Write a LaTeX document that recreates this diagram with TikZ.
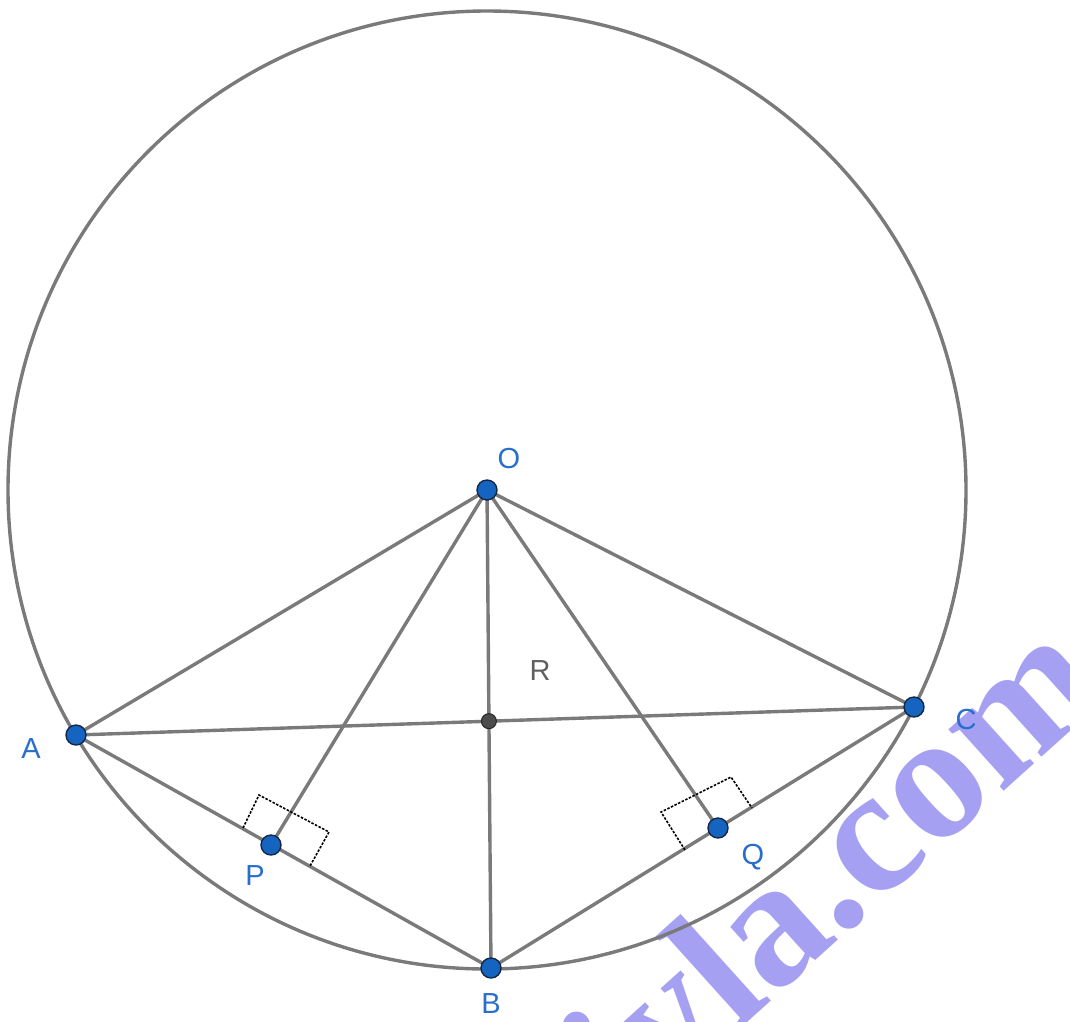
\documentclass[tikz,border=0pt]{standalone}
\usepackage{fontspec}
\setmainfont{Liberation Sans}
\newfontfamily\wmfont{Liberation Serif}
\usetikzlibrary{calc}
\definecolor{segcol}{RGB}{122,122,122}
\definecolor{ptblue}{RGB}{21,101,192}
\definecolor{ptedge}{RGB}{20,40,70}
\definecolor{lblblue}{RGB}{40,110,205}
\definecolor{lblgray}{RGB}{96,96,96}
\definecolor{wmcol}{RGB}{166,160,242}
\tikzset{
  seg/.style={draw=segcol, line width=3.4pt},
  ptdot/.style={circle, fill=ptblue, draw=ptedge, line width=1.4pt, minimum size=20pt, inner sep=0pt},
  rdot/.style={circle, fill=black!70, draw=black!85, line width=1pt, minimum size=15pt, inner sep=0pt},
  lbl/.style={text=lblblue, font=\fontsize{29}{29}\selectfont, inner sep=0pt},
  rmark/.style={draw=black, line width=1.6pt, dash pattern=on 2.5pt off 1.5pt},
}
\begin{document}
\begin{tikzpicture}[x=1pt,y=-1pt]
\useasboundingbox (0,0) rectangle (1070,1021);
% watermark
\begin{scope}
\clip (0,0) rectangle (1070,1021);
\node[text=wmcol, font=\wmfont\bfseries\fontsize{180}{180}\selectfont, rotate=42, anchor=base, inner sep=0pt] (wm) at (872,910) {ivla.com};
\end{scope}
% points
\coordinate (Oc) at (487,490);
\coordinate (Ac) at (76,735);
\coordinate (Bc) at (491,968);
\coordinate (Cc) at (914,707);
\coordinate (Pc) at (271,845);
\coordinate (Qc) at (718,828);
\coordinate (Rc) at (intersection of Ac--Cc and Oc--Bc);
% circle
\draw[seg] (Oc) circle (479);
% segments
\draw[seg] (Oc) -- (Ac);
\draw[seg] (Oc) -- (Cc);
\draw[seg] (Oc) -- (Bc);
\draw[seg] (Oc) -- (Pc);
\draw[seg] (Oc) -- (Qc);
\draw[seg] (Ac) -- (Cc);
\draw[seg] (Ac) -- (Bc);
\draw[seg] (Bc) -- (Cc);
% right-angle marks
\draw[rmark] (243,828) -- (259,795) -- (329,832) -- (310,866);
\draw[rmark] (685,850) -- (661,812) -- (731,777) -- (752,808);
% dots
\node[ptdot] (O) at (Oc) {};
\node[ptdot] (A) at (Ac) {};
\node[ptdot] (B) at (Bc) {};
\node[ptdot] (C) at (Cc) {};
\node[ptdot] (P) at (Pc) {};
\node[ptdot] (Q) at (Qc) {};
\node[rdot] (R) at (Rc) {};
% labels
\node[lbl] (lO) at (509,459) {O};
\node[lbl] (lA) at (31,749) {A};
\node[lbl] (lB) at (491,1004) {B};
\node[lbl] (lC) at (966,720) {C};
\node[lbl] (lP) at (255,876) {P};
\node[lbl] (lQ) at (753,857) {Q};
\node[lbl, text=lblgray] (lR) at (540,671) {R};
\end{tikzpicture}
\end{document}
